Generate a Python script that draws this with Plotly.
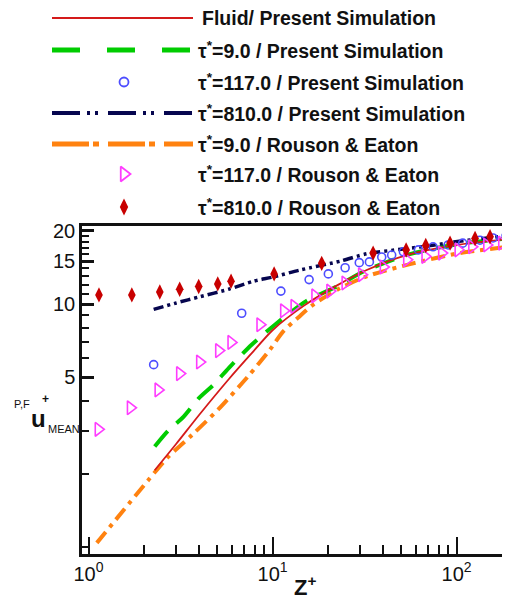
import plotly.graph_objects as go

# ---------------- data ----------------
fluid_z = [2.29, 3.0, 4.0, 5.78, 7.6, 10.0, 14.7, 22.3, 32.5, 53.6, 100, 187]
fluid_u = [2.07, 2.66, 3.5, 4.9, 6.2, 7.8, 9.8, 11.9, 13.8, 15.9, 17.5, 18.5]

green_z = [2.29, 2.71, 3.29, 3.97, 4.79, 5.78, 7.7, 10.3, 15.3, 22.3, 31.2, 55, 100, 188]
green_u = [2.59, 3.01, 3.44, 4.09, 4.66, 5.45, 6.8, 8.22, 10.3, 11.8, 13.6, 16.0, 17.6, 18.6]

navy_z = [2.26, 3.0, 4.0, 5.78, 7.87, 10.0, 14.1, 23.3, 32.5, 50, 68.9, 92, 130, 186]
navy_u = [9.5, 10.1, 10.7, 11.5, 12.4, 12.9, 13.8, 15.0, 16.1, 16.8, 17.3, 17.9, 18.5, 19.1]

orange_z = [1.11, 2.12, 2.67, 3.65, 5.1, 7.3, 9.7, 11.4, 13.8, 16.5, 23.2, 32.5, 55.9, 104, 179]
orange_u = [1.04, 1.89, 2.32, 2.89, 3.7, 5.0, 6.5, 7.7, 8.8, 9.9, 11.6, 13.0, 14.6, 16.2, 17.1]

circ_z = [2.26, 6.8, 11.1, 15.8, 20.1, 24.8, 29.6, 33.6, 39.2, 44.4, 51.4, 62, 74.5, 90, 108, 134, 158, 186]
circ_u = [5.63, 9.16, 11.3, 12.6, 13.3, 14.1, 14.8, 14.9, 15.6, 15.9, 16.4, 16.7, 17.2, 17.5, 17.8, 18.3, 18.7, 19.1]

tri_z = [1.13, 1.69, 2.39, 3.13, 4.02, 5.1, 5.95, 8.55, 11.5, 13.1, 17.0, 20.5, 24.8, 30.5, 40, 53.6, 67.4, 83, 102, 121, 146, 176]
tri_u = [3.05, 3.74, 4.43, 5.17, 5.77, 6.43, 6.95, 8.22, 9.38, 9.78, 10.8, 11.3, 12.2, 13.2, 14.2, 15.2, 15.7, 16.2, 16.7, 17.2, 17.5, 17.8]

dia_z = [1.14, 1.72, 2.44, 3.13, 3.97, 5.04, 5.95, 10.2, 18.5, 35.2, 53.2, 68.0, 92.2, 126, 152, 187.5]
dia_u = [10.9, 10.9, 11.2, 11.5, 11.8, 12.1, 12.4, 13.3, 14.7, 16.2, 16.7, 17.4, 17.8, 18.6, 18.9, 19.1]

legend_labels = [
    "Fluid/ Present Simulation",
    "τ<sup>*</sup>=9.0 / Present Simulation",
    "τ<sup>*</sup>=117.0 / Present Simulation",
    "τ<sup>*</sup>=810.0 / Present Simulation",
    "τ<sup>*</sup>=9.0 / Rouson &amp; Eaton",
    "τ<sup>*</sup>=117.0 / Rouson &amp; Eaton",
    "τ<sup>*</sup>=810.0 / Rouson &amp; Eaton",
]
x_tick_vals = [1, 10, 100]
x_tick_text = ["10<sup>0</sup>", "10<sup>1</sup>", "10<sup>2</sup>"]
y_tick_vals = [5, 10, 15, 20]
y_tick_text = ["5", "10", "15", "20"]
y_minor_vals = [1, 2, 3, 4, 6, 7, 8, 9, 11, 12, 13, 14, 16, 17, 18, 19]

# ---------------- styles ----------------
RED = "#d41a1a"
GREEN = "#00cc00"
BLUE = "#4d4dff"
NAVY = "#06064f"
ORANGE = "#ff8210"
MAGENTA = "#ff3cff"
DRED = "#c80000"
FONT = "Liberation Sans, Arial, sans-serif"

# page body offsets the figure by 8 px; the figure fills the rest of the window
OFF = 8
WIN_W, WIN_H = 510, 605
W, H = WIN_W - OFF, WIN_H - OFF

fig = go.Figure()

SM = 0.7
fig.add_trace(go.Scatter(x=orange_z, y=orange_u, mode="lines", line_shape="spline", line_smoothing=SM,
                         line=dict(color=ORANGE, width=4, dash="14px,6px,4px,6px")))
fig.add_trace(go.Scatter(x=green_z, y=green_u, mode="lines", line_shape="spline", line_smoothing=SM,
                         line=dict(color=GREEN, width=4, dash="20px,12px")))
fig.add_trace(go.Scatter(x=fluid_z, y=fluid_u, mode="lines", line_shape="spline", line_smoothing=SM,
                         line=dict(color=RED, width=1.8)))
fig.add_trace(go.Scatter(x=navy_z, y=navy_u, mode="lines", line_shape="spline", line_smoothing=SM,
                         line=dict(color=NAVY, width=3.5, dash="10px,4px,3px,4px,3px,4px")))
fig.add_trace(go.Scatter(x=circ_z, y=circ_u, mode="markers",
                         marker=dict(symbol="circle-open", size=8, color=BLUE, line=dict(width=1.6, color=BLUE))))
fig.add_trace(go.Scatter(x=tri_z, y=tri_u, mode="markers",
                         marker=dict(symbol="triangle-right-open", size=12, color=MAGENTA, line=dict(width=1.6, color=MAGENTA))))
fig.add_trace(go.Scatter(x=dia_z, y=dia_u, mode="markers",
                         marker=dict(symbol="diamond-tall", size=11, color=DRED)))

# ---------------- legend (drawn on a hidden axis in window-pixel units) ----------------
row_y = [18, 50, 82, 113, 144, 174, 207]
line_x = [52, 193]
mark_x = [124]
leg_line_styles = [
    dict(color=RED, width=2),
    dict(color=GREEN, width=5, dash="28px,27px"),
    None,
    dict(color=NAVY, width=4, dash="28px,7px,3px,5px,3px,10px"),
    dict(color=ORANGE, width=5, dash="37px,4px,6px,9px"),
    None,
    None,
]
leg_markers = [None, None,
               dict(symbol="circle-open", size=9, color=BLUE, line=dict(width=1.8, color=BLUE)),
               None, None,
               dict(symbol="triangle-right-open", size=13, color=MAGENTA, line=dict(width=1.8, color=MAGENTA)),
               dict(symbol="diamond-tall", size=12, color=DRED)]
for i, ry in enumerate(row_y):
    if leg_line_styles[i] is not None:
        fig.add_trace(go.Scatter(x=line_x, y=[ry, ry], mode="lines", line=leg_line_styles[i],
                                 xaxis="x2", yaxis="y2", hoverinfo="skip"))
    if leg_markers[i] is not None:
        fig.add_trace(go.Scatter(x=mark_x, y=[ry], mode="markers", marker=leg_markers[i],
                                 xaxis="x2", yaxis="y2", hoverinfo="skip"))
    fig.add_annotation(x=196 if i > 0 else 200, y=ry, xref="x2", yref="y2", text="<b>%s</b>" % legend_labels[i],
                       showarrow=False, xanchor="left", yanchor="middle",
                       font=dict(family=FONT, size=19.5, color="#111"))

# ---------------- axis titles ----------------
fig.add_annotation(x=22, y=404, xref="x2", yref="y2", text="P,F", showarrow=False,
                   font=dict(family=FONT, size=11, color="#111"))
fig.add_annotation(x=38, y=418, xref="x2", yref="y2", text="<b>u</b>", showarrow=False,
                   font=dict(family=FONT, size=24, color="#111"))
fig.add_annotation(x=45, y=399, xref="x2", yref="y2", text="<b>+</b>", showarrow=False,
                   font=dict(family=FONT, size=12, color="#111"))
fig.add_annotation(x=46, y=429, xref="x2", yref="y2", text="MEAN", showarrow=False, xanchor="left",
                   font=dict(family=FONT, size=11, color="#111"))
fig.add_annotation(x=305, y=586, xref="x2", yref="y2", text="<b>Z<sup>+</sup></b>", showarrow=False,
                   font=dict(family=FONT, size=22, color="#111"))

x0, x1, y_top, y_bot = 82, 507, 226, 554
fig.update_layout(
    template="none",
    width=W, height=H,
    margin=dict(l=0, r=0, t=0, b=0, pad=0, autoexpand=False),
    paper_bgcolor="white", plot_bgcolor="rgba(0,0,0,0)",
    showlegend=False,
    xaxis=dict(type="log", range=[-0.0353, 2.274], domain=[(x0 - OFF) / W, (x1 - OFF) / W], anchor="y",
               automargin=False,
               showgrid=False, zeroline=False, showline=True, linecolor="#111", linewidth=2.5, mirror=True,
               ticks="inside", ticklen=17, tickwidth=2, tickcolor="#111",
               tickmode="array", tickvals=x_tick_vals, ticktext=x_tick_text,
               tickfont=dict(family=FONT, size=20, color="#111"),
               minor=dict(ticks="inside", ticklen=9, tickwidth=1.5, tickcolor="#111", dtick="D1", showgrid=False)),
    yaxis=dict(type="log", range=[-0.0288, 1.321], domain=[(WIN_H - y_bot) / H, (WIN_H - y_top) / H], anchor="x",
               automargin=False,
               showgrid=False, zeroline=False, showline=True, linecolor="#111", linewidth=2.5, mirror=True,
               ticks="inside", ticklen=12, tickwidth=2.5, tickcolor="#111",
               tickmode="array", tickvals=y_tick_vals, ticktext=y_tick_text,
               tickfont=dict(family=FONT, size=20, color="#111"),
               minor=dict(ticks="inside", ticklen=7, tickwidth=2, tickcolor="#111",
                          tickmode="array", tickvals=y_minor_vals, showgrid=False)),
    xaxis2=dict(range=[OFF, WIN_W], domain=[0, 1], anchor="y2", visible=False, fixedrange=True, automargin=False),
    yaxis2=dict(range=[WIN_H, OFF], domain=[0, 1], anchor="x2", visible=False, fixedrange=True, automargin=False),
)

fig.write_html("out.html")
